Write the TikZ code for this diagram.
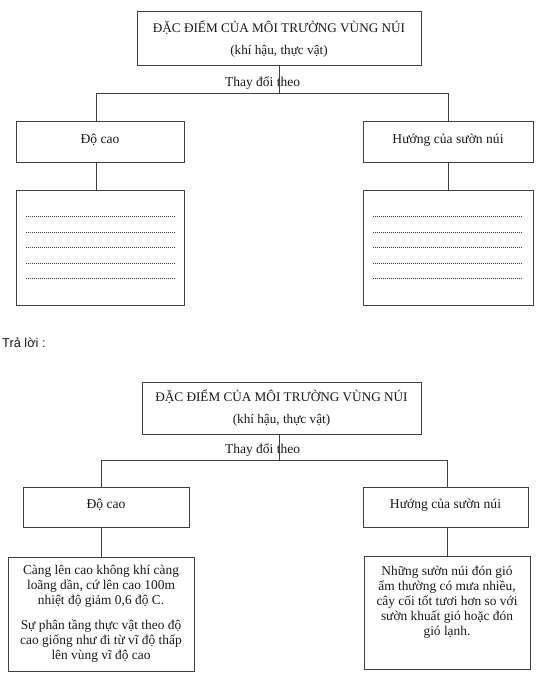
\documentclass[tikz,border=0pt]{standalone}
\usepackage{fontspec}
\setmainfont{Liberation Serif}
\newfontfamily\arialfont{Liberation Sans}
\definecolor{linec}{rgb}{0.25,0.25,0.25}
\definecolor{textc}{rgb}{0.1,0.1,0.1}
\begin{document}
\begin{tikzpicture}[x=1pt,y=-1pt,
  box/.style={draw=linec, line width=1pt, rectangle, inner sep=0pt, align=center, text=textc,
              font=\fontsize{13.6}{15}\selectfont},
  parbox/.style={box, font=\fontsize{13.4}{15}\selectfont},
  titlebox/.style={box, font=\fontsize{13.2}{22}\selectfont},
  conn/.style={draw=linec, line width=1pt},
  dotline/.style={draw=linec, line width=0.6pt, dash pattern=on 0.7pt off 1.3pt},
  lbl/.style={inner sep=0pt, text=textc, font=\fontsize{13.5}{15}\selectfont}]
\useasboundingbox (0,0) rectangle (541,685);

% ---------- top (blank) diagram ----------
\node[titlebox, minimum width=284pt, minimum height=54pt] (T1) at (279,39)
  {ĐẶC ĐIỂM CỦA MÔI TRƯỜNG VÙNG NÚI\\(khí hậu, thực vật)};
\node[lbl] (C1) at (262.5,83) {Thay đổi theo};
\node[box, minimum width=168pt, minimum height=41pt, text depth=6pt] (L1) at (100,141.5) {Độ cao};
\node[box, minimum width=170pt, minimum height=41pt, text depth=6pt] (R1) at (448,141.5) {Hướng của sườn núi};
\node[box, minimum width=168pt, minimum height=115pt] (L2) at (100,247.5) {};
\node[box, minimum width=170pt, minimum height=115pt] (R2) at (448,247.5) {};
\coordinate (J1) at (279,93);
\coordinate (J1l) at (96,93);
\coordinate (J1r) at (448,93);
\draw[conn] (T1.south) -- (J1);
\draw[conn] (J1l |- L1.north) -- (J1l) -- (J1r) -- (J1r |- R1.north);
\draw[conn] (J1l |- L1.south) -- (J1l |- L2.north);
\draw[conn] (R1.south) -- (R2.north);
\foreach \y in {216,232,247,263,278} {
  \draw[dotline] ([xshift=10pt]L2.west |- 0,\y) -- ([xshift=-10pt]L2.east |- 0,\y);
  \draw[dotline] ([xshift=10pt]R2.west |- 0,\y) -- ([xshift=-11pt]R2.east |- 0,\y);
}

% ---------- answer label ----------
\node[inner sep=0pt, anchor=west, text=textc, font=\arialfont\fontsize{12.8}{14}\selectfont] (TL) at (2,343) {Trả lời :};

% ---------- bottom (answered) diagram ----------
\node[titlebox, minimum width=279pt, minimum height=52pt] (T2) at (281.5,408)
  {ĐẶC ĐIỂM CỦA MÔI TRƯỜNG VÙNG NÚI\\(khí hậu, thực vật)};
\node[lbl] (C2) at (262.5,450) {Thay đổi theo};
\node[box, minimum width=166pt, minimum height=40pt, text depth=6pt] (L3) at (106,507) {Độ cao};
\node[box, minimum width=165pt, minimum height=40pt, text depth=6pt] (R3) at (445.5,507) {Hướng của sườn núi};
\node[parbox, minimum width=186pt, minimum height=114pt] (L4) at (101,614)
  {Càng lên cao không khí càng\\loãng dần, cứ lên cao 100m\\nhiệt độ giảm 0,6 độ C.\\[10pt]
   Sự phân tầng thực vật theo độ\\cao giống như đi từ vĩ độ thấp\\lên vùng vĩ độ cao};
\node[parbox, minimum width=166pt, minimum height=113pt] (R4) at (447,612.5)
  {Những sườn núi đón gió\\ẩm thường có mưa nhiều,\\cây cối tốt tươi hơn so với\\sườn khuất gió hoặc đón\\gió lạnh.\\[8pt]};
\coordinate (J2) at (279,460);
\coordinate (J2l) at (101,460);
\coordinate (J2r) at (447,460);
\draw[conn] (J2 |- T2.south) -- (J2);
\draw[conn] (J2l |- L3.north) -- (J2l) -- (J2r) -- (J2r |- R3.north);
\draw[conn] (J2l |- L3.south) -- (J2l |- L4.north);
\draw[conn] (J2r |- R3.south) -- (J2r |- R4.north);
\end{tikzpicture}
\end{document}
